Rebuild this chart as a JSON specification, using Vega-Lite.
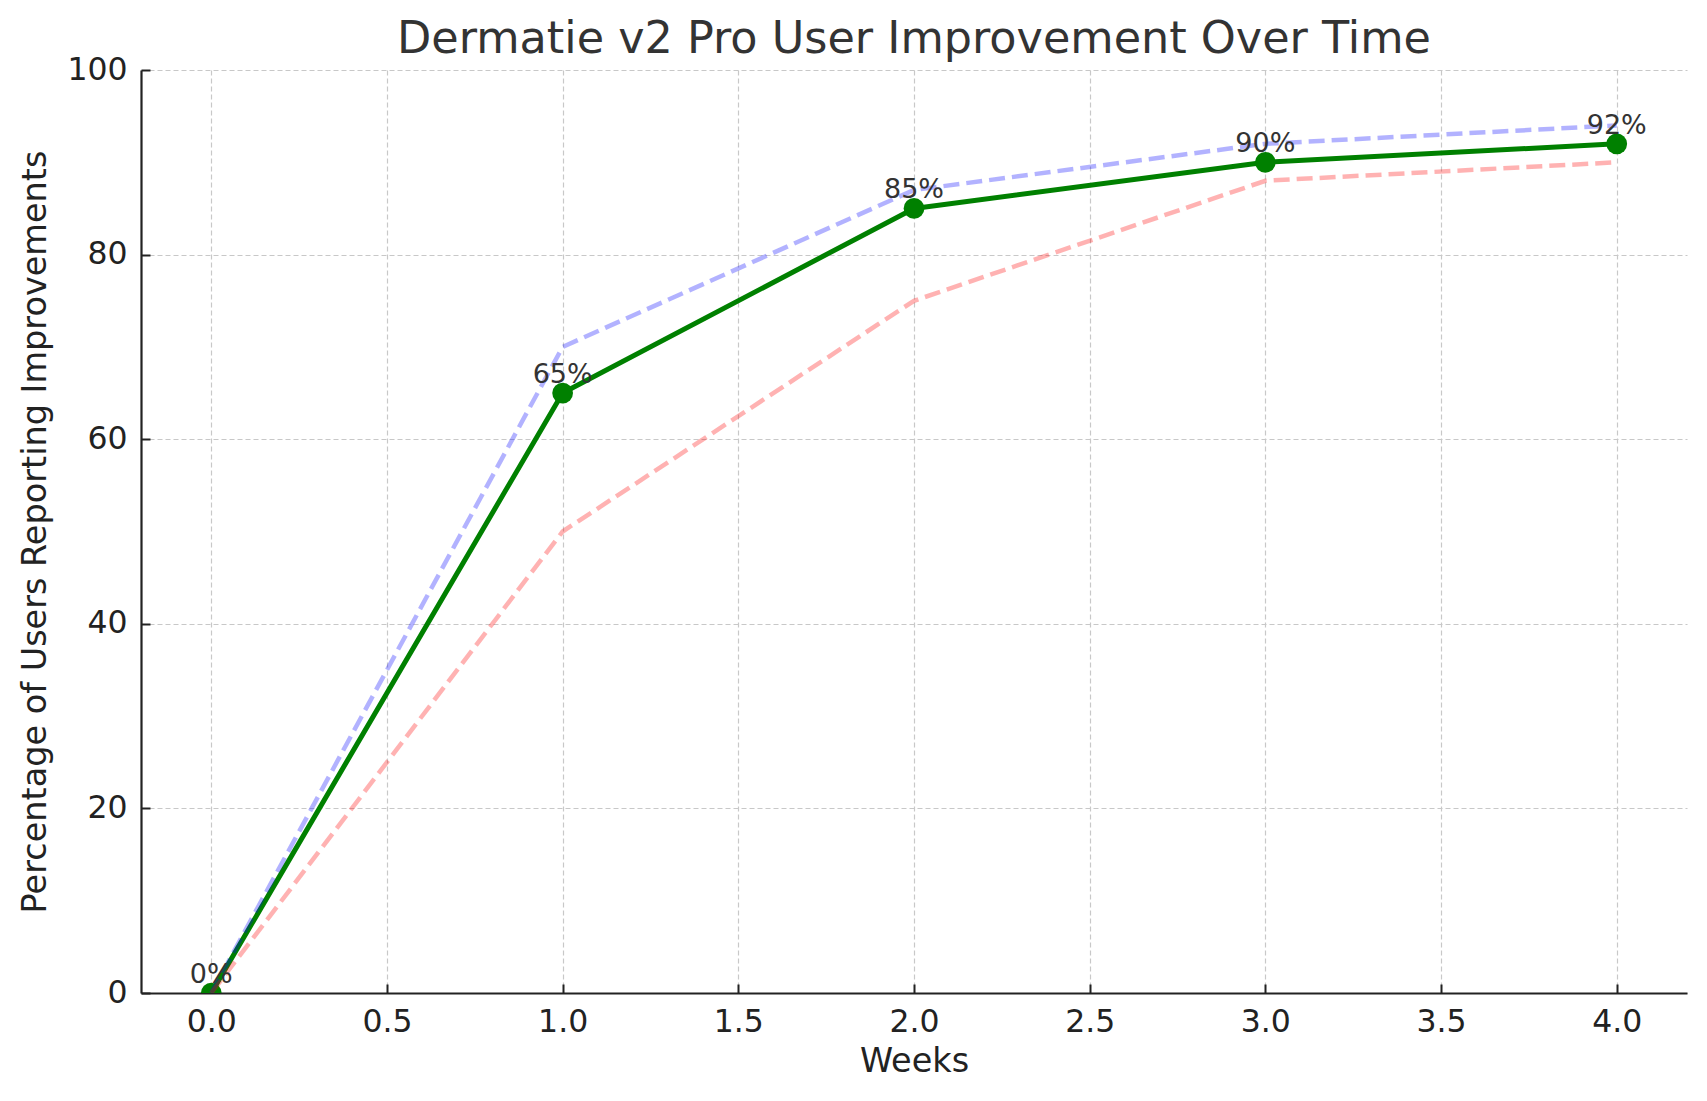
{
  "$schema": "https://vega.github.io/schema/vega-lite/v6.json",
  "width": 1546,
  "height": 923,
  "autosize": {"type": "none"},
  "padding": {"left": 141, "top": 70, "right": 20, "bottom": 108},
  "background": "white",
  "config": {"view": {"stroke": null}, "font": "DejaVu Sans"},
  "title": {
    "text": "Dermatie v2 Pro User Improvement Over Time",
    "fontSize": 44.5,
    "fontWeight": "normal",
    "font": "DejaVu Sans",
    "color": "#333333",
    "anchor": "middle",
    "frame": "group",
    "baseline": "bottom",
    "offset": 6,
    "dy": 58
  },
  "data": {
    "values": [
      {"week": 0, "series": "Average", "value": 0, "label": "0%"},
      {"week": 1, "series": "Average", "value": 65, "label": "65%"},
      {"week": 2, "series": "Average", "value": 85, "label": "85%"},
      {"week": 3, "series": "Average", "value": 90, "label": "90%"},
      {"week": 4, "series": "Average", "value": 92, "label": "92%"},
      {"week": 0, "series": "Upper", "value": 0},
      {"week": 1, "series": "Upper", "value": 70},
      {"week": 2, "series": "Upper", "value": 87},
      {"week": 3, "series": "Upper", "value": 92},
      {"week": 4, "series": "Upper", "value": 94},
      {"week": 0, "series": "Lower", "value": 0},
      {"week": 1, "series": "Lower", "value": 50},
      {"week": 2, "series": "Lower", "value": 75},
      {"week": 3, "series": "Lower", "value": 88},
      {"week": 4, "series": "Lower", "value": 90}
    ]
  },
  "encoding": {
    "x": {
      "field": "week",
      "type": "quantitative",
      "scale": {"domain": [-0.2, 4.2], "nice": false, "zero": false},
      "axis": {
        "title": "Weeks",
        "values": [0, 0.5, 1, 1.5, 2, 2.5, 3, 3.5, 4],
        "format": ".1f",
        "grid": true,
        "gridColor": "#c8c8c8",
        "gridDash": [5, 3],
        "gridWidth": 1.2,
        "domainColor": "#222222",
        "domainWidth": 2.2,
        "tickColor": "#222222",
        "tickWidth": 2,
        "tickSize": -9,
        "labelPadding": 22,
        "labelFontSize": 31.5,
        "labelColor": "#222222",
        "labelFont": "DejaVu Sans",
        "titleFontSize": 33.5,
        "titleFontWeight": "normal",
        "titleFont": "DejaVu Sans",
        "titleColor": "#222222",
        "titlePadding": 8
      }
    },
    "y": {
      "field": "value",
      "type": "quantitative",
      "scale": {"domain": [0, 100], "nice": false},
      "axis": {
        "title": "Percentage of Users Reporting Improvements",
        "values": [0, 20, 40, 60, 80, 100],
        "grid": true,
        "gridColor": "#c8c8c8",
        "gridDash": [5, 3],
        "gridWidth": 1.2,
        "domainColor": "#222222",
        "domainWidth": 2.2,
        "tickColor": "#222222",
        "tickWidth": 2,
        "tickSize": -9,
        "labelPadding": 23,
        "labelFontSize": 31.5,
        "labelColor": "#222222",
        "labelFont": "DejaVu Sans",
        "titleFontSize": 33.5,
        "titleFontWeight": "normal",
        "titleFont": "DejaVu Sans",
        "titleColor": "#222222",
        "titlePadding": 14
      }
    }
  },
  "layer": [
    {
      "transform": [{"filter": "datum.series === 'Average'"}],
      "mark": {"type": "line", "color": "#008000", "strokeWidth": 5, "strokeJoin": "round", "clip": true}
    },
    {
      "transform": [{"filter": "datum.series === 'Average'"}],
      "mark": {"type": "point", "shape": "circle", "filled": true, "color": "#008000", "opacity": 1, "size": 430, "clip": true}
    },
    {
      "transform": [{"filter": "datum.series === 'Upper'"}],
      "mark": {"type": "line", "color": "#0000ff", "opacity": 0.3, "strokeWidth": 4.5, "strokeDash": [16, 7], "strokeCap": "butt", "clip": true}
    },
    {
      "transform": [{"filter": "datum.series === 'Lower'"}],
      "mark": {"type": "line", "color": "#ff0000", "opacity": 0.3, "strokeWidth": 4.5, "strokeDash": [16, 7], "strokeCap": "butt", "clip": true}
    },
    {
      "transform": [{"filter": "datum.series === 'Average'"}],
      "mark": {"type": "text", "fontSize": 27, "font": "DejaVu Sans", "color": "#333333", "baseline": "alphabetic", "align": "center", "dy": -10},
      "encoding": {"text": {"field": "label"}}
    }
  ]
}
